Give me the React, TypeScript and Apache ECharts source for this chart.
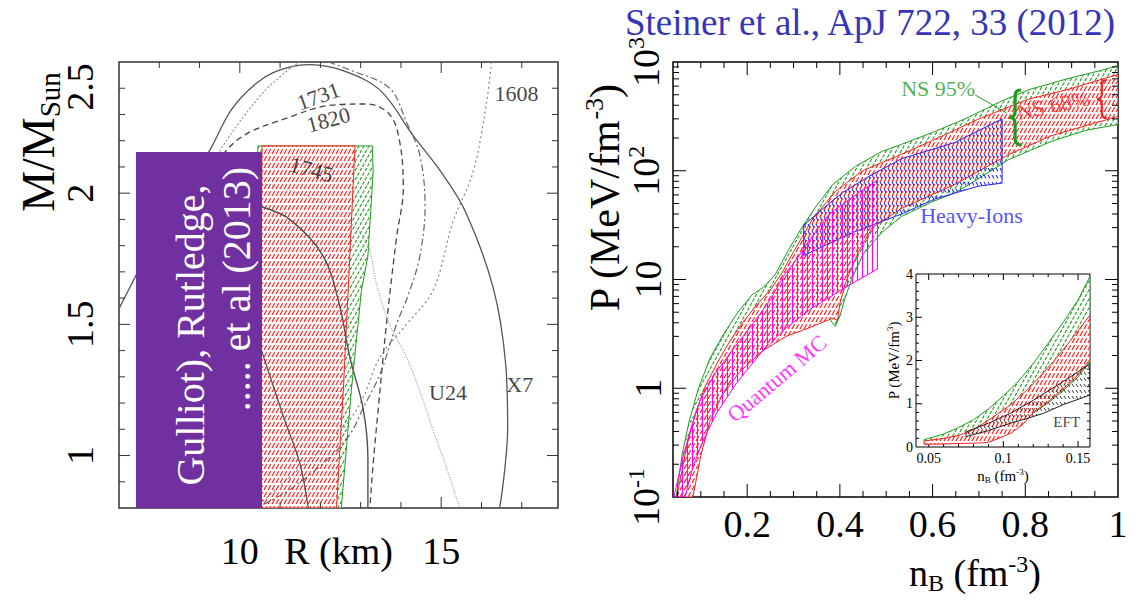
import React, { useEffect, useRef } from 'react';
import * as echarts from 'echarts';

type Pt = [number, number];

const SERIF = 'Liberation Serif, Times New Roman, serif';
const GREEN = '#1f9c1f';
const RED = '#ff1f1f';
const BLUE = '#2424ff';
const MAGENTA = '#ff00ff';

// ---------- Left panel: mass-radius constraints (R in km, M in solar masses) ----------
const mrBand95: Pt[] = [
  [10.45, 2.18], [13.29, 2.18], [13.31, 2.08], [13.18, 1.76], [13.02, 1.63],
  [12.77, 1.25], [12.52, 0.8], [10.15, 0.8],
];
const mrBand68: Pt[] = [
  [10.55, 2.18], [12.86, 2.18], [12.73, 1.76], [12.69, 1.63], [12.57, 1.25],
  [12.4, 0.8], [10.5, 0.8],
];

const curveX7: Pt[] = [
  [7.0, 1.56], [7.4, 1.68], [8.0, 1.86], [8.6, 2.0], [9.26, 2.165], [9.8, 2.32],
  [10.42, 2.42], [11.0, 2.47], [11.74, 2.49], [12.6, 2.465], [13.5, 2.39],
  [14.3, 2.22], [15.0, 2.08], [15.6, 1.93], [16.29, 1.64], [16.6, 1.35],
  [16.65, 1.1], [16.58, 0.95], [16.45, 0.8],
];
const curve1820: Pt[] = [
  [8.4, 1.9], [9.2, 2.07], [10.0, 2.21], [11.24, 2.29], [12.24, 2.335], [13.15, 2.34],
  [13.72, 2.3], [13.97, 2.196], [14.06, 2.02], [13.89, 1.83], [13.64, 1.5],
  [13.45, 1.2], [13.3, 0.95], [13.23, 0.8],
];
const curve1731Left: Pt[] = [[8.9, 2.0], [9.58, 2.18], [10.5, 2.37], [11.2, 2.47], [11.5, 2.5]];
const curve1731Right: Pt[] = [
  [12.2, 2.5], [12.73, 2.47], [13.72, 2.4], [14.14, 2.27], [14.47, 2.145], [14.6, 1.95],
  [14.47, 1.76], [14.2, 1.62], [13.89, 1.5], [13.48, 1.31], [13.06, 1.18], [12.73, 1.08],
  [12.07, 0.97], [11.24, 0.87], [10.67, 0.82], [10.4, 0.8],
];
const curve1608: Pt[] = [
  [16.25, 2.5], [16.12, 2.34], [15.79, 2.08], [15.29, 1.89], [14.8, 1.63], [14.14, 1.5],
  [13.48, 1.375], [13.06, 1.22], [12.65, 1.12], [12.07, 1.03], [11.33, 0.93], [10.67, 0.84],
  [10.4, 0.8],
];
const curveU24: Pt[] = [
  [10.5, 2.04], [11.66, 1.99], [12.48, 1.92], [13.15, 1.81], [13.4, 1.65], [13.72, 1.5],
  [14.14, 1.375], [14.55, 1.21], [14.8, 1.095], [15.13, 0.955], [15.46, 0.8],
];
const curve1745: Pt[] = [
  [10.5, 1.95], [11.24, 1.9], [12.07, 1.76], [12.48, 1.57], [12.73, 1.375], [13.06, 1.18],
  [13.18, 0.99], [13.18, 0.8],
];
const curveInner: Pt[] = [[10.54, 1.4], [11.08, 1.15], [11.49, 0.97], [11.7, 0.8]];

const sourceNames = ['1731', '1820', '1745', '1608', 'U24', 'X7'];
const sourceLabelAt: Pt[] = [[11.95, 2.37], [12.2, 2.28], [11.78, 2.09], [16.87, 2.38], [15.17, 1.24], [16.95, 1.27]];
const sourceLabelTilt = [20, 15, -15, 0, 0, 0];

const radiusTicks = [8, 9, 11, 12, 13, 14, 16, 17];
const radiusLongTicks = [10, 15];
const massTicks = [0.9, 1.1, 1.2, 1.3, 1.4, 1.6, 1.7, 1.8, 1.9, 2.1, 2.2, 2.3, 2.4];
const massLongTicks = [1, 1.5, 2];

// ---------- Right panel: pressure vs baryon density ----------
const ns95Upper: Pt[] = [
  [0.047, 0.1], [0.06, 0.25], [0.075, 0.5], [0.095, 1.0], [0.12, 1.9], [0.15, 3.2],
  [0.18, 5.0], [0.21, 7.2], [0.235, 8.5], [0.26, 11], [0.29, 19], [0.32, 31], [0.35, 48],
  [0.385, 75], [0.434, 110], [0.49, 150], [0.533, 175], [0.6, 225], [0.67, 300],
  [0.75, 440], [0.81, 560], [0.89, 700], [0.96, 830], [1.0, 930],
];
const ns95Lower: Pt[] = [
  [0.081, 0.1], [0.095, 0.23], [0.11, 0.45], [0.13, 0.8], [0.155, 1.3], [0.183, 1.9],
  [0.21, 2.6], [0.233, 3.1], [0.26, 3.9], [0.291, 4.6], [0.341, 5.1], [0.37, 4.8],
  [0.39, 3.7], [0.4, 4.6], [0.41, 6.5], [0.425, 10], [0.45, 17], [0.49, 27], [0.533, 38],
  [0.6, 52], [0.65, 63], [0.7, 85], [0.763, 126], [0.856, 186], [0.93, 235], [1.0, 266],
];
const ns68Upper: Pt[] = [
  [0.048, 0.1], [0.055, 0.14], [0.07, 0.3], [0.09, 0.62], [0.11, 1.05], [0.135, 1.7],
  [0.16, 2.6], [0.19, 4.0], [0.22, 5.8], [0.25, 8.0], [0.275, 11.5], [0.3, 18], [0.341, 36],
  [0.391, 65], [0.449, 100], [0.53, 140], [0.6, 190], [0.7, 300], [0.806, 454],
  [0.892, 560], [1.0, 770],
];
const ns68Lower: Pt[] = [
  [0.083, 0.1], [0.1, 0.24], [0.12, 0.5], [0.145, 0.85], [0.183, 1.4], [0.233, 2.2],
  [0.284, 3.0], [0.334, 3.6], [0.384, 4.4], [0.395, 4.2], [0.4, 6.0], [0.413, 9.5],
  [0.44, 18], [0.47, 30], [0.533, 45], [0.648, 75], [0.763, 140], [0.856, 210], [1.0, 316],
];
const heavyIonOutline: Pt[] = [
  [0.322, 31.6], [0.363, 44.7], [0.406, 63], [0.463, 89], [0.533, 129], [0.648, 182],
  [0.75, 300], [0.75, 77], [0.698, 72], [0.605, 55], [0.533, 40], [0.427, 27], [0.322, 16.6],
];
const qmcUpper: Pt[] = [
  [0.042, 0.1], [0.06, 0.22], [0.08, 0.45], [0.1, 0.8], [0.13, 1.35], [0.17, 2.3],
  [0.21, 3.8], [0.25, 6.5], [0.28, 11], [0.31, 16], [0.334, 23], [0.377, 40], [0.434, 60],
  [0.481, 82],
];
const qmcLower: Pt[] = [
  [0.066, 0.1], [0.083, 0.19], [0.105, 0.33], [0.133, 0.58], [0.176, 1.1], [0.233, 2.2],
  [0.284, 3.6], [0.341, 5.5], [0.413, 8.5], [0.481, 12.5],
];
const ns95Leader: Pt[] = [[0.692, 497], [0.76, 339]];
const ns95BraceEnds: Pt[] = [[0.778, 553], [0.778, 173]];
const ns68BraceEnds: Pt[] = [[0.965, 683], [0.965, 305]];
const eosNames = ['NS 95%', 'NS 68%', 'Heavy-Ions', 'Quantum MC'];
const eosLabelAt: Pt[] = [[0.612, 575], [0.86, 400], [0.684, 39], [0.264, 1.23]];
const eosLabelTilt = [0, 12, 0, 40];
const eosLabelColor = [GREEN, RED, BLUE, MAGENTA];

const densityMinorTicks = [0.05, 0.1, 0.15, 0.25, 0.3, 0.35, 0.45, 0.5, 0.55, 0.65, 0.7, 0.75, 0.85, 0.9, 0.95];
const densityMajorTicks = [0.2, 0.4, 0.6, 0.8];
const pressureMajorTicks = [1, 10, 100];
const pressureMinorTicks = [
  0.2, 0.3, 0.4, 0.5, 0.6, 0.7, 0.8, 0.9, 2, 3, 4, 5, 6, 7, 8, 9,
  20, 30, 40, 50, 60, 70, 80, 90, 200, 300, 400, 500, 600, 700, 800, 900,
];

// ---------- Inset: low-density zoom (linear pressure) ----------
const insetNs95Upper: Pt[] = [
  [0.047, 0.17], [0.06, 0.3], [0.07, 0.45], [0.08, 0.63], [0.09, 0.88], [0.1, 1.18],
  [0.11, 1.52], [0.12, 1.93], [0.13, 2.4], [0.14, 2.88], [0.15, 3.4], [0.158, 3.95],
];
const insetNs95Lower: Pt[] = [
  [0.047, 0.08], [0.06, 0.09], [0.07, 0.1], [0.08, 0.11], [0.085, 0.13], [0.09, 0.2],
  [0.1, 0.37], [0.11, 0.56], [0.12, 0.78], [0.13, 1.02], [0.14, 1.3], [0.15, 1.62], [0.158, 1.97],
];
const insetNs68Upper: Pt[] = [
  [0.047, 0.14], [0.06, 0.2], [0.0713, 0.28], [0.08, 0.4], [0.0935, 0.7], [0.105, 0.98],
  [0.1158, 1.32], [0.127, 1.72], [0.138, 2.16], [0.148, 2.6], [0.158, 3.05],
];
const insetNs68Lower: Pt[] = [
  [0.047, 0.06], [0.06, 0.07], [0.07, 0.08], [0.08, 0.09], [0.089, 0.1], [0.097, 0.2],
  [0.105, 0.32], [0.113, 0.52], [0.12, 0.8], [0.13, 1.05], [0.14, 1.34], [0.15, 1.67], [0.158, 2.03],
];
const eftUpper: Pt[] = [[0.075, 0.35], [0.09, 0.55], [0.1047, 0.78], [0.12, 1.08], [0.138, 1.47], [0.158, 1.92]];
const eftLower: Pt[] = [[0.075, 0.24], [0.09, 0.38], [0.1047, 0.55], [0.115, 0.65], [0.127, 0.78], [0.14, 0.98], [0.158, 1.2]];
const eftLabelAt: Pt = [0.1424, 0.585];

const insetDensityLabels = [0.05, 0.1, 0.15];
const insetDensityMinor = [0.06, 0.07, 0.08, 0.09, 0.11, 0.12, 0.13, 0.14];
const insetPressureMajor = [1, 2, 3];
const insetPressureMinor = [0.2, 0.4, 0.6, 0.8, 1.2, 1.4, 1.6, 1.8, 2.2, 2.4, 2.6, 2.8, 3.2, 3.4, 3.6, 3.8];

// ---------- helpers ----------
function hatch(color: string, w: number, h: number, dir: string, dash: number[], lw: number) {
  const c = document.createElement('canvas');
  c.width = w;
  c.height = h;
  const g = c.getContext('2d') as CanvasRenderingContext2D;
  g.strokeStyle = color;
  g.lineWidth = lw;
  g.setLineDash(dash);
  for (const off of [-w, 0, w]) {
    g.beginPath();
    if (dir === 'fwd') {
      g.moveTo(off, h);
      g.lineTo(off + w, 0);
    } else if (dir === 'back') {
      g.moveTo(off, 0);
      g.lineTo(off + w, h);
    } else {
      g.moveTo(off + w / 2, 0);
      g.lineTo(off + w / 2, h);
    }
    g.stroke();
  }
  return { image: c, repeat: 'repeat', imageWidth: w, imageHeight: h };
}

const band = (upper: Pt[], lower: Pt[]): Pt[] => upper.concat(lower.slice().reverse());

function regionSeries(grid: number, outline: Pt[], fill: any, stroke: string, opaque: boolean, z: number) {
  return {
    type: 'custom',
    xAxisIndex: grid,
    yAxisIndex: grid,
    z,
    silent: true,
    clip: true,
    data: outline,
    encode: { x: 0, y: 1 },
    renderItem: (params: any, api: any) => {
      if (params.dataIndex !== 0) return null;
      const pts = outline.map((p) => api.coord(p));
      const children: any[] = [];
      if (opaque) children.push({ type: 'polygon', shape: { points: pts }, style: { fill: '#fff' } });
      children.push({ type: 'polygon', shape: { points: pts }, style: { fill, stroke, lineWidth: 1 } });
      return { type: 'group', children };
    },
  };
}

function tickSeries(grid: number, xTicks: number[], yTicks: number[], xAnchor: number, yAnchor: number, len: number, color: string) {
  const data = [
    ...xTicks.map((v) => [v, yAnchor, 0]),
    ...yTicks.map((v) => [xAnchor, v, 1]),
  ];
  return {
    type: 'custom',
    xAxisIndex: grid,
    yAxisIndex: grid,
    z: 8,
    silent: true,
    clip: false,
    data,
    encode: { x: 0, y: 1 },
    renderItem: (params: any, api: any) => {
      const cs = params.coordSys;
      const p = api.coord([api.value(0), api.value(1)]);
      const style = { stroke: color, lineWidth: 1 };
      if (api.value(2) === 0) {
        return {
          type: 'group',
          children: [
            { type: 'line', shape: { x1: p[0], y1: cs.y + cs.height, x2: p[0], y2: cs.y + cs.height - len }, style },
            { type: 'line', shape: { x1: p[0], y1: cs.y, x2: p[0], y2: cs.y + len }, style },
          ],
        };
      }
      return {
        type: 'group',
        children: [
          { type: 'line', shape: { x1: cs.x, y1: p[1], x2: cs.x + len, y2: p[1] }, style },
          { type: 'line', shape: { x1: cs.x + cs.width, y1: p[1], x2: cs.x + cs.width - len, y2: p[1] }, style },
        ],
      };
    },
  };
}

function braceSeries(grid: number, ends: Pt[], width: number, color: string, lw: number) {
  return {
    type: 'custom',
    xAxisIndex: grid,
    yAxisIndex: grid,
    z: 9,
    silent: true,
    data: ends,
    encode: { x: 0, y: 1 },
    renderItem: (params: any, api: any) => {
      if (params.dataIndex !== 0) return null;
      const a = api.coord(ends[0]);
      const b = api.coord(ends[1]);
      const x = a[0];
      const y1 = a[1];
      const y2 = b[1];
      const ym = (y1 + y2) / 2;
      const r = Math.min(width, (y2 - y1) / 6);
      const d = `M${x + width} ${y1} Q${x} ${y1} ${x} ${y1 + r} L${x} ${ym - r} Q${x} ${ym} ${x - width} ${ym} Q${x} ${ym} ${x} ${ym + r} L${x} ${y2 - r} Q${x} ${y2} ${x + width} ${y2}`;
      return { type: 'path', shape: { pathData: d }, style: { stroke: color, fill: 'none', lineWidth: lw } };
    },
  };
}

function curve(data: Pt[], color: string, type: any, width: number) {
  return {
    type: 'line',
    xAxisIndex: 0,
    yAxisIndex: 0,
    data,
    symbol: 'none',
    smooth: 0.35,
    silent: true,
    z: 4,
    lineStyle: { color, width, type },
  };
}

function labelSeries(grid: number, names: string[], at: Pt[], tilt: number[], colors: string[], size: number) {
  return {
    type: 'scatter',
    xAxisIndex: grid,
    yAxisIndex: grid,
    symbolSize: 1,
    silent: true,
    z: 10,
    itemStyle: { color: 'rgba(0,0,0,0)' },
    data: names.map((name, i) => ({
      name,
      value: at[i],
      label: { rotate: tilt[i], color: colors[i] },
    })),
    label: { show: true, position: 'inside', formatter: '{b}', fontSize: size, fontFamily: SERIF },
  };
}

const near = (a: number, b: number) => Math.abs(a - b) < 1e-6;

function buildOption() {
  const greenHatch = hatch(GREEN, 5, 9, 'fwd', [3.5, 1.65], 1.1);
  const redHatch = hatch(RED, 4, 7, 'fwd', [5.5, 2.56], 1.2);
  const blueHatch = hatch(BLUE, 4, 7, 'back', [4, 4.06], 1.1);
  const magentaHatch = hatch(MAGENTA, 5, 2, 'vert', [], 1.2);
  const eftHatch = hatch('#222', 4, 6, 'back', [3.6, 3.61], 0.9);

  const rich = (size: number, color: string) => ({
    n: { fontSize: size, fontFamily: SERIF, color, fill: color },
    p: { fontSize: Math.round(size * 0.62), fontFamily: SERIF, color, fill: color, verticalAlign: 'top', padding: [0, 0, Math.round(size * 0.5), 0] },
    s: { fontSize: Math.round(size * 0.62), fontFamily: SERIF, color, fill: color, verticalAlign: 'bottom', padding: [Math.round(size * 0.5), 0, 0, 0] },
  });

  const axisFont = { fontSize: 38, fontFamily: SERIF, color: '#000' };

  return {
    animation: false,
    backgroundColor: '#fff',
    grid: [
      { left: 119, top: 62, width: 439, height: 446, show: true, borderColor: '#333', borderWidth: 1.5, backgroundColor: 'transparent', outerBoundsMode: 'none' },
      { left: 673, top: 62, width: 445, height: 435, show: true, borderColor: '#000', borderWidth: 1.5, backgroundColor: 'transparent', outerBoundsMode: 'none' },
      { left: 916, top: 274, width: 174, height: 173, show: true, borderColor: '#000', borderWidth: 1, backgroundColor: '#fff', outerBoundsMode: 'none' },
    ],
    xAxis: [
      {
        gridIndex: 0, type: 'value', min: 7, max: 17.9, interval: 1,
        axisLine: { show: false }, axisTick: { show: false }, splitLine: { show: false },
        axisLabel: { ...axisFont, margin: 24, interval: 0, formatter: (v: number) => (near(v, 10) || near(v, 15) ? String(Math.round(v)) : '') },
        name: 'R (km)', nameLocation: 'middle', nameGap: 24, nameMoveOverlap: false,
        nameTextStyle: { ...axisFont, verticalAlign: 'top' },
      },
      {
        gridIndex: 1, type: 'value', min: 0.04, max: 1,
        axisLine: { show: false }, axisTick: { show: false }, splitLine: { show: false },
        axisLabel: {
          ...axisFont, margin: 8, showMinLabel: false,
          formatter: (v: number) => {
            const k = Math.round(v * 10);
            if (!near(v * 10, k) || k % 2 !== 0 || k === 0) return '';
            return k === 10 ? '1' : v.toFixed(1);
          },
        },
      },
      {
        gridIndex: 2, type: 'value', min: 0.0415, max: 0.158,
        axisLine: { show: false }, axisTick: { show: false }, splitLine: { show: false },
        axisLabel: {
          fontSize: 14, fontFamily: SERIF, color: '#000', margin: 4,
          customValues: insetDensityLabels,
          formatter: (v: number) => (near(v, 0.1) ? '0.1' : v.toFixed(2)),
        },
        name: '{n|n}{s|B}{n| (fm}{p|-3}{n|)}', nameLocation: 'middle', nameGap: 20,
        nameTextStyle: { rich: rich(15, '#000') },
      },
    ],
    yAxis: [
      {
        gridIndex: 0, type: 'value', min: 0.8, max: 2.5, interval: 0.1,
        axisLine: { show: false }, axisTick: { show: false }, splitLine: { show: false },
        axisLabel: {
          ...axisFont, margin: 20, rotate: 90, interval: 0,
          formatter: (v: number) => {
            if (near(v, 2.5)) return '{t|2.5}';
            if (near(v, 2)) return '2';
            if (near(v, 1.5)) return '1.5';
            if (near(v, 1)) return '1';
            return '';
          },
          rich: { t: { fontSize: 38, fontFamily: SERIF, color: '#000', padding: [0, 50, 0, 0] } },
        },
      },
      {
        gridIndex: 1, type: 'log', logBase: 10, min: 0.1, max: 1000,
        axisLine: { show: false }, axisTick: { show: false }, splitLine: { show: false },
        axisLabel: {
          ...axisFont, margin: 6, rotate: 90,
          formatter: (v: number) => {
            const e = Math.round(Math.log10(v));
            if (e === 0) return '{n|1}';
            if (e === 1) return '{n|10}';
            return `{n|10}{p|${e}}`;
          },
          rich: rich(38, '#000'),
        },
      },
      {
        gridIndex: 2, type: 'value', min: 0, max: 4, interval: 1,
        axisLine: { show: false }, axisTick: { show: false }, splitLine: { show: false },
        axisLabel: { fontSize: 14, fontFamily: SERIF, color: '#000', margin: 3 },
        name: '{n|P (MeV/fm}{p|3}{n|)}', nameLocation: 'middle', nameGap: 14, nameRotate: 90,
        nameTextStyle: { rich: rich(15, '#000') },
      },
    ],
    series: [
      // left panel
      regionSeries(0, mrBand95, greenHatch, GREEN, true, 2),
      regionSeries(0, mrBand68, redHatch, RED, true, 3),
      curve(curveX7, '#555', 'solid', 1.3),
      curve(curve1820, '#444', [6, 4], 1.3),
      curve(curve1731Left, '#8a8a8a', [2, 2], 1.1),
      curve(curve1731Right, '#666', [7, 3, 2, 3], 1.2),
      curve(curve1608, '#808080', [2, 3], 1.2),
      curve(curveU24, '#9a9a9a', [1, 1.5], 1.2),
      curve(curve1745, '#505050', 'solid', 1.4),
      curve(curveInner, '#555', 'solid', 1.3),
      labelSeries(0, sourceNames, sourceLabelAt, sourceLabelTilt, sourceNames.map(() => '#111'), 22),
      tickSeries(0, radiusTicks, massTicks, 7, 0.8, 6, '#333'),
      tickSeries(0, radiusLongTicks, massLongTicks, 7, 0.8, 11, '#333'),
      // right panel
      regionSeries(1, band(ns95Upper, ns95Lower), greenHatch, GREEN, true, 2),
      regionSeries(1, band(ns68Upper, ns68Lower), redHatch, RED, true, 3),
      regionSeries(1, heavyIonOutline, blueHatch, BLUE, false, 4),
      regionSeries(1, band(qmcUpper, qmcLower), magentaHatch, MAGENTA, false, 5),
      {
        type: 'line', xAxisIndex: 1, yAxisIndex: 1, data: ns95Leader, symbol: 'none', silent: true, z: 9,
        lineStyle: { color: GREEN, width: 1 },
      },
      braceSeries(1, ns95BraceEnds, 6, GREEN, 3.2),
      braceSeries(1, ns68BraceEnds, 5, RED, 2.2),
      labelSeries(1, eosNames, eosLabelAt, eosLabelTilt, eosLabelColor, 22),
      tickSeries(1, densityMinorTicks, pressureMinorTicks, 0.04, 0.1, 6, '#000'),
      tickSeries(1, densityMajorTicks, pressureMajorTicks, 0.04, 0.1, 13, '#000'),
      // inset
      regionSeries(2, band(insetNs95Upper, insetNs95Lower), greenHatch, GREEN, true, 12),
      regionSeries(2, band(insetNs68Upper, insetNs68Lower), redHatch, RED, true, 13),
      regionSeries(2, band(eftUpper, eftLower), eftHatch, '#222', false, 14),
      labelSeries(2, ['EFT'], [eftLabelAt], [0], ['#111'], 15),
      tickSeries(2, insetDensityMinor, insetPressureMinor, 0.0415, 0, 3, '#000'),
      tickSeries(2, insetDensityLabels, insetPressureMajor, 0.0415, 0, 6, '#000'),
    ],
    graphic: [
      {
        type: 'text', x: 870, y: 22, z: 20,
        style: { text: 'Steiner et al., ApJ 722, 33 (2012)', fill: '#3535b5', font: `37px ${SERIF}`, textAlign: 'center', textVerticalAlign: 'middle', align: 'center', verticalAlign: 'middle' },
      },
      {
        type: 'text', x: 38, y: 142, rotation: Math.PI / 2, z: 20,
        style: {
          text: '{n|M/M}{s|Sun}', rich: rich(46, '#000'),
          textAlign: 'center', textVerticalAlign: 'middle', align: 'center', verticalAlign: 'middle',
        },
      },
      {
        type: 'text', x: 605, y: 198, rotation: Math.PI / 2, z: 20,
        style: {
          text: '{n|P (MeV/fm}{p|-3}{n|)}', rich: rich(42, '#000'),
          textAlign: 'center', textVerticalAlign: 'middle', align: 'center', verticalAlign: 'middle',
        },
      },
      {
        type: 'text', x: 975, y: 573, z: 20,
        style: {
          text: '{n|n}{s|B}{n| (fm}{p|-3}{n|)}', rich: rich(38, '#000'),
          textAlign: 'center', textVerticalAlign: 'middle', align: 'center', verticalAlign: 'middle',
        },
      },
      {
        type: 'rect', z: 50, shape: { x: 136, y: 152, width: 126, height: 356 },
        style: { fill: '#7030a0' },
      },
      {
        type: 'text', x: 190, y: 335, rotation: Math.PI / 2, z: 51,
        style: { text: 'Gulliot), Rutledge,', fill: '#fff', font: `40px ${SERIF}`, textAlign: 'center', textVerticalAlign: 'middle', align: 'center', verticalAlign: 'middle' },
      },
      {
        type: 'text', x: 236, y: 289, rotation: Math.PI / 2, z: 51,
        style: { text: '..... et al (2013)', fill: '#fff', font: `40px ${SERIF}`, textAlign: 'center', textVerticalAlign: 'middle', align: 'center', verticalAlign: 'middle' },
      },
    ],
  };
}

export default function App() {
  const ref = useRef<HTMLDivElement>(null);
  useEffect(() => {
    if (!ref.current) return;
    const chart = echarts.init(ref.current, undefined, { renderer: 'svg' });
    chart.setOption(buildOption() as any);
    return () => chart.dispose();
  }, []);
  return (
    <div
      ref={ref}
      style={{ position: 'fixed', left: 0, top: 0, width: 1138, height: 604, background: '#fff' }}
    />
  );
}
